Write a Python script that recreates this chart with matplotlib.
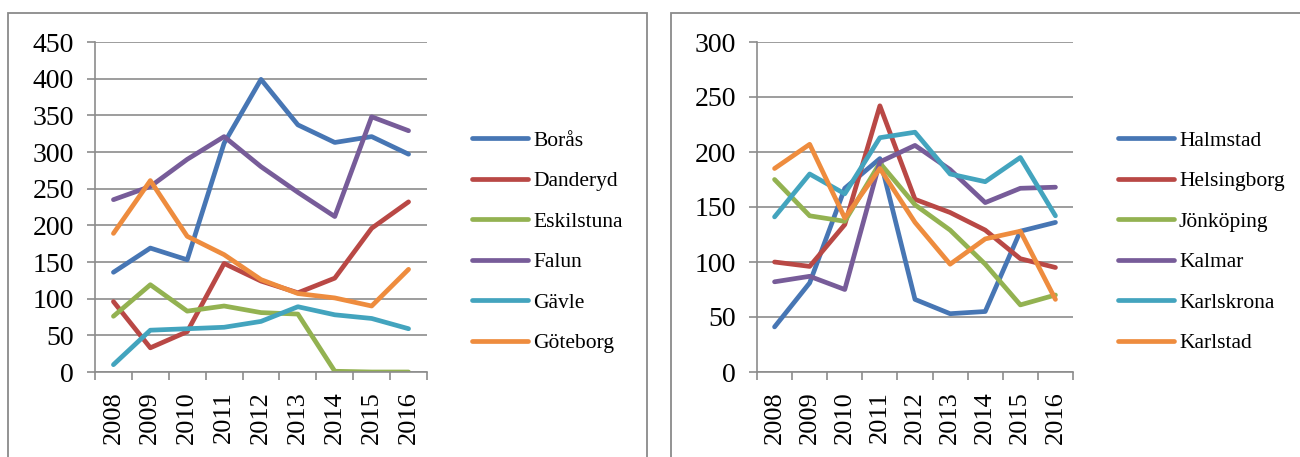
import numpy as np
import matplotlib
matplotlib.use("Agg")
import matplotlib.pyplot as plt
from matplotlib.patches import Rectangle
from matplotlib.ticker import FixedLocator, MultipleLocator

plt.rcParams["font.family"] = ["Liberation Serif", "DejaVu Serif"]

YEARS = ["2008", "2009", "2010", "2011", "2012", "2013", "2014", "2015", "2016"]

# left panel
LEFT_NAMES = ["Borås", "Danderyd", "Eskilstuna", "Falun", "Gävle", "Göteborg"]
boras      = [136, 169, 153, 312, 399, 337, 313, 321, 297]
danderyd   = [96, 33, 55, 148, 124, 108, 128, 196, 232]
eskilstuna = [76, 119, 83, 90, 81, 79, 1, 0, 0]
falun      = [235, 253, 290, 321, 280, 245, 212, 348, 329]
gavle      = [10, 57, 59, 61, 69, 89, 78, 73, 59]
goteborg   = [189, 261, 185, 160, 126, 107, 101, 90, 140]

# right panel
RIGHT_NAMES = ["Halmstad", "Helsingborg", "Jönköping", "Kalmar", "Karlskrona", "Karlstad"]
halmstad    = [41, 81, 167, 194, 66, 53, 55, 128, 136]
helsingborg = [100, 96, 134, 242, 157, 145, 129, 103, 95]
jonkoping   = [175, 142, 137, 190, 152, 129, 98, 61, 70]
kalmar      = [82, 87, 75, 191, 206, 184, 154, 167, 168]
karlskrona  = [141, 180, 162, 213, 218, 180, 173, 195, 142]
karlstad    = [185, 207, 140, 185, 136, 98, 121, 128, 66]

COLORS = ["#4776B4", "#B94845", "#93B251", "#775C99", "#43A4BE", "#EE8C3E"]
GRID = "#8c8c8c"


def draw_panel(ax, series, names, ymax, step, legend_anchor):
    x = np.arange(len(YEARS)) + 0.5
    for vals, name, c in zip(series, names, COLORS):
        ax.plot(x, vals, color=c, lw=3.4, label=name, solid_capstyle="round",
                solid_joinstyle="round")

    ax.set_xlim(0, len(YEARS))
    ax.set_ylim(0, ymax)
    ax.yaxis.set_major_locator(MultipleLocator(step))
    ax.grid(axis="y", color=GRID, lw=1.2)
    ax.set_axisbelow(True)

    ax.xaxis.set_major_locator(FixedLocator(x))
    ax.set_xticklabels(YEARS, rotation=90)
    ax.xaxis.set_minor_locator(FixedLocator(np.arange(len(YEARS) + 1)))
    ax.tick_params(axis="x", which="major", length=0, pad=14, labelsize=19)
    ax.tick_params(axis="x", which="minor", length=6, width=1.2, color=GRID)
    ax.tick_params(axis="y", length=6, width=1.2, color=GRID, pad=9, labelsize=20)

    for side in ("top", "right"):
        ax.spines[side].set_visible(False)
    for side in ("left", "bottom"):
        ax.spines[side].set_color(GRID)
        ax.spines[side].set_linewidth(1.2)

    ax.legend(loc="upper left", bbox_to_anchor=legend_anchor,
              bbox_transform=ax.figure.transFigure, frameon=False,
              fontsize=15.5, handlelength=2.6, handletextpad=0.25,
              labelspacing=0.95, borderaxespad=0)


fig = plt.figure(figsize=(13, 4.57), dpi=100)

# panel frames
for x0, x1 in [(8, 647), (671, 1310)]:
    fig.patches.append(Rectangle((x0 / 1300, -0.1), (x1 - x0) / 1300, 1.1 - 13 / 457,
                                 transform=fig.transFigure, fill=False,
                                 edgecolor="#8a8a8a", lw=1.3))

ax1 = fig.add_axes([95 / 1300, 1 - 372 / 457, 332 / 1300, 330 / 457])
ax2 = fig.add_axes([757 / 1300, 1 - 372 / 457, 316 / 1300, 330 / 457])

draw_panel(ax1, [boras, danderyd, eskilstuna, falun, gavle, goteborg],
           LEFT_NAMES, 450, 50, (463 / 1300, 1 - 122 / 457))
draw_panel(ax2, [halmstad, helsingborg, jonkoping, kalmar, karlskrona, karlstad],
           RIGHT_NAMES, 300, 50, (1109 / 1300, 1 - 122 / 457))

fig.savefig("out.png", dpi=100)
